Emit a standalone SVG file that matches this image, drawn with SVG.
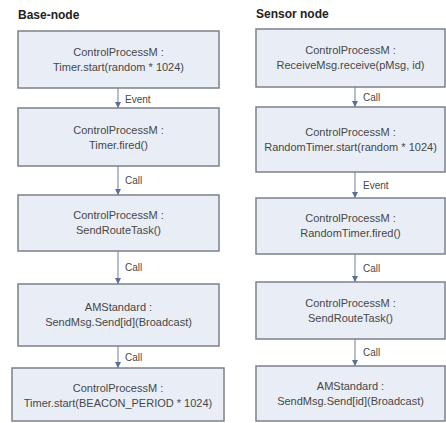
<svg xmlns="http://www.w3.org/2000/svg" width="446" height="423" viewBox="0 0 446 423">
<defs>
<marker id="ah" viewBox="0 0 6 6" refX="6" refY="3" markerWidth="6" markerHeight="6" orient="auto" markerUnits="userSpaceOnUse">
<path d="M0,0 L6,3 L0,6 z" fill="#5a6f95"/>
</marker>
</defs>
<style>
.box{fill:#e9eef6;stroke:#7c8189;stroke-width:1.5}
.t{font-family:"Liberation Sans",Arial,sans-serif;font-size:11px;fill:#474747;text-anchor:middle}
.lbl{font-family:"Liberation Sans",Arial,sans-serif;font-size:10px;fill:#474747}
.title{font-family:"Liberation Sans",Arial,sans-serif;font-size:12px;font-weight:bold;fill:#222}
.c{stroke:#6b7fa3;stroke-width:1;fill:none;marker-end:url(#ah)}
</style>
<rect width="446" height="423" fill="#ffffff"/>
<text class="title" x="18" y="19">Base-node</text>
<text class="title" x="256" y="18">Sensor node</text>
<g id="connectors">
<path class="c" d="M118,88 V108"/>
<path class="c" d="M118,166 V195"/>
<path class="c" d="M118,251 V284"/>
<path class="c" d="M118,346 V368"/>
<path class="c" d="M355,87 V107"/>
<path class="c" d="M355,172 V198"/>
<path class="c" d="M355,254 V282"/>
<path class="c" d="M355,339 V366"/>
<text class="lbl" x="125" y="103">Event</text>
<text class="lbl" x="125" y="184">Call</text>
<text class="lbl" x="125" y="271">Call</text>
<text class="lbl" x="125" y="361">Call</text>
<text class="lbl" x="363" y="101">Call</text>
<text class="lbl" x="363" y="189">Event</text>
<text class="lbl" x="363" y="272">Call</text>
<text class="lbl" x="363" y="356">Call</text>
</g>
<g id="b1"><rect class="box" x="18" y="31" width="201" height="57"/><text class="t" x="118.5" y="56">ControlProcessM :</text><text class="t" x="118.5" y="71">Timer.start(random * 1024)</text></g>
<g id="b2"><rect class="box" x="18" y="108" width="201" height="58"/><text class="t" x="118.5" y="134">ControlProcessM :</text><text class="t" x="118.5" y="149">Timer.fired()</text></g>
<g id="b3"><rect class="box" x="18" y="195" width="201" height="56"/><text class="t" x="118.5" y="219">ControlProcessM :</text><text class="t" x="118.5" y="234">SendRouteTask()</text></g>
<g id="b4"><rect class="box" x="18" y="284" width="201" height="62"/><text class="t" x="118.5" y="311">AMStandard :</text><text class="t" x="118.5" y="326">SendMsg.Send[id](Broadcast)</text></g>
<g id="b5"><rect class="box" x="12" y="368" width="212" height="53"/><text class="t" x="118" y="392">ControlProcessM :</text><text class="t" x="118" y="407">Timer.start(BEACON_PERIOD * 1024)</text></g>
<g id="s1"><rect class="box" x="256" y="29" width="189" height="58"/><text class="t" x="350.5" y="54">ControlProcessM :</text><text class="t" x="350.5" y="69">ReceiveMsg.receive(pMsg, id)</text></g>
<g id="s2"><rect class="box" x="256" y="107" width="189" height="65"/><text class="t" x="350.5" y="136">ControlProcessM :</text><text class="t" x="350.5" y="151">RandomTimer.start(random * 1024)</text></g>
<g id="s3"><rect class="box" x="256" y="198" width="189" height="56"/><text class="t" x="350.5" y="222">ControlProcessM :</text><text class="t" x="350.5" y="237">RandomTimer.fired()</text></g>
<g id="s4"><rect class="box" x="256" y="282" width="189" height="57"/><text class="t" x="350.5" y="307">ControlProcessM :</text><text class="t" x="350.5" y="322">SendRouteTask()</text></g>
<g id="s5"><rect class="box" x="256" y="366" width="189" height="55"/><text class="t" x="350.5" y="390">AMStandard :</text><text class="t" x="350.5" y="405">SendMsg.Send[id](Broadcast)</text></g>
</svg>
